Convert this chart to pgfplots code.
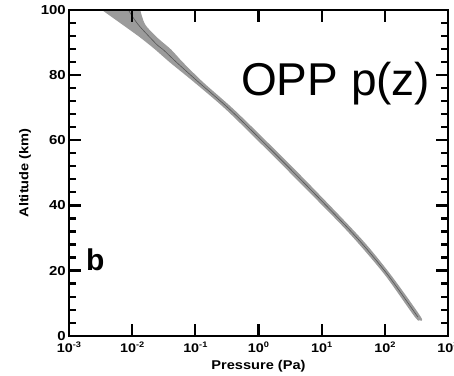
\documentclass[border=0pt]{standalone}
\usepackage{fontspec}
\setmainfont{Liberation Sans}
\newfontfamily\lblfont[FakeStretch=1.15]{Liberation Sans}
\usepackage{pgfplots}
\pgfplotsset{compat=1.18}
\usepgfplotslibrary{fillbetween}
\definecolor{bandgray}{RGB}{155,155,155}
\definecolor{linegray}{RGB}{85,85,85}
\newcommand{\tl}[1]{{\lblfont\bfseries\fontsize{12.5}{12.5}\selectfont 10\raisebox{4.2pt}{\fontsize{8}{8}\selectfont #1}}}
\begin{document}
\begin{tikzpicture}
\begin{axis}[name=ax, scale only axis, width=379pt, height=325.7pt,
  xmode=log, xmin=1e-3, xmax=1e3, ymin=0, ymax=100,
  xtick={1e-3,1e-2,1e-1,1,1e1,1e2,1e3},
  xticklabels={\tl{-3},\tl{-2},\tl{-1},\tl{0},\tl{1},\tl{2},\tl{3}},
  xminorticks=false,
  ytick={0,20,...,100}, minor ytick={4,8,...,96},
  axis line style={line width=2.2pt},
  every tick/.style={black, line width=2.2pt},
  major tick length=12pt, minor tick length=7pt,
  tick align=inside,
  axis on top=true,
  /pgf/number format/assume math mode=true,
  xticklabel style={anchor=base, yshift=-16.3pt},
  yticklabel style={anchor=east, inner sep=0pt, xshift=-3pt, font=\lblfont\bfseries\fontsize{13}{13}\selectfont},
  xlabel={Pressure (Pa)}, ylabel={Altitude (km)},
  label style={font=\lblfont\bfseries\fontsize{12.7}{12.7}\selectfont},
  xlabel style={at={(axis description cs:0.5,0)}, anchor=base, yshift=-34pt},
  ylabel style={at={(axis description cs:0,0.5)}, anchor=center, yshift=44pt},
]
% uncertainty band edges
\addplot[name path=L, draw=none, smooth, tension=0.5] coordinates {
  (2.58e-3,101.5) (3.21e-3,100.2) (6.90e-3,95.6) (1.33e-2,91.6) (2.30e-2,87.9)
  (3.96e-2,83.9) (9.68e-2,77.75) (0.305,69.45) (1.216,58.06) (4.05,47.9)
  (19.05,34.68) (42.5,27.29) (105.7,18.06) (298.5,5.75) (352,4.8)
};
\addplot[name path=R, draw=none, smooth, tension=0.5] coordinates {
  (1.26e-2,101.5) (1.33e-2,100.2) (1.60e-2,95.6) (2.47e-2,91.6) (4.11e-2,87.9)
  (6.37e-2,83.9) (0.134,77.75) (0.408,69.45) (1.629,58.06) (5.42,47.9)
  (24.6,34.68) (54.8,27.29) (131.5,18.06) (371.5,5.75) (352,4.8)
};
\addplot[bandgray, draw=none] fill between[of=L and R];
% mean profile
\addplot[linegray, line width=0.6pt, smooth, tension=0.5] coordinates {
  (8.59e-3,100.2) (1.236e-2,95.6) (2.44e-2,89.45) (3.07e-2,87.9) (5.06e-2,83.9)
  (0.114,77.75) (0.352,69.45) (1.409,58.06) (4.69,47.9) (21.6,34.68)
  (48.3,27.29) (117.8,18.06) (333,5.75)
};
\node[anchor=base west, inner sep=0pt, font=\fontsize{46}{46}\selectfont] at (rel axis cs:0.4538,0.739) {OPP p(z)};
\node[anchor=base west, inner sep=0pt, font=\bfseries\fontsize{30}{30}\selectfont] at (rel axis cs:0.0449,0.1987) {b};
\end{axis}
\pgfresetboundingbox
\path ([xshift=-69pt,yshift=-39.3pt]ax.south west) rectangle ([xshift=6pt,yshift=10pt]ax.north east);
\end{tikzpicture}
\end{document}
